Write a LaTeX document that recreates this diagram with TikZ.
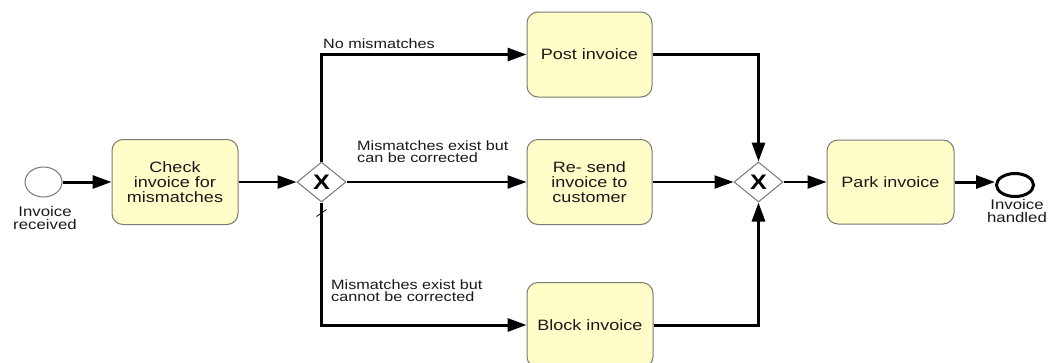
\documentclass[tikz,border=0pt]{standalone}
\usepackage{fontspec}
\setmainfont{Liberation Sans}[FakeStretch=1.2]
\usetikzlibrary{arrows.meta,shapes.geometric}
\definecolor{taskfill}{HTML}{FFFDC8}
\definecolor{taskline}{HTML}{7A7A72}
\definecolor{txt}{HTML}{1A1A1A}
\tikzset{
  task/.style={draw=taskline, line width=1bp, fill=taskfill, rounded corners=11bp,
    minimum width=126bp, minimum height=85bp, inner sep=0pt, align=center,
    text=txt, font=\fontsize{15bp}{15bp}\selectfont},
  gateway/.style={diamond, draw=taskline, line width=1bp, fill=white, inner sep=0pt,
    minimum width=49bp, minimum height=40bp, font=\fontsize{21bp}{21bp}\selectfont\bfseries},
  startev/.style={ellipse, draw=taskline, line width=1bp, fill=white, minimum width=37bp, minimum height=30bp, inner sep=0pt},
  endev/.style={ellipse, draw=black, line width=3bp, fill=white, minimum width=37bp, minimum height=23bp, inner sep=0pt},
  flow/.style={line width=3bp, -{Triangle[length=19bp,width=13bp]}},
  thinflow/.style={line width=2.2bp, -{Triangle[length=19bp,width=13bp]}},
  lbl/.style={text=txt, font=\fontsize{13.5bp}{11.5bp}\selectfont, align=left, inner sep=0pt},
  evlbl/.style={text=txt, font=\fontsize{14bp}{13bp}\selectfont, align=center, inner sep=0pt}
}
\begin{document}
\begin{tikzpicture}[x=1bp,y=-1bp]
\useasboundingbox (0,0) rectangle (1049,362);
\node[startev] (start) at (43.5,182) {};
\node[evlbl, anchor=north] (startlbl) at (45,206) {Invoice\\received};
\node[task] (check) at (175,182) {Check\\invoice for\\mismatches};
\node[gateway] (gw1) at (321.5,182) {X};
\node[task, minimum width=125bp] (post) at (589.5,54.5) {Post invoice};
\node[task, minimum width=125bp] (resend) at (589.5,182) {Re- send\\invoice to\\customer};
\node[task] (block) at (590,325) {Block invoice};
\node[gateway] (gw2) at (758.5,182) {X};
\node[task, minimum width=127bp, minimum height=84bp] (park) at (890.5,182) {Park invoice};
\node[endev] (end) at (1015,185) {};
\node[evlbl, anchor=north] (endlbl) at (1017,199) {Invoice\\handled};

\draw[flow] (start) -- (check);
\draw[thinflow] (check) -- (gw1);
\draw[flow] (gw1.north) |- (post.west);
\draw[thinflow] (gw1.east) -- (resend.west);
\draw[flow] (gw1.south) |- (block.west);
\draw[line width=0.8bp] ([shift={(-5,14)}]gw1.south) -- ([shift={(5,7)}]gw1.south);
\draw[flow] (post.east) -| (gw2.north);
\draw[thinflow] (resend.east) -- (gw2.west);
\draw[flow] (block.east) -| (gw2.south);
\draw[thinflow] (gw2.east) -- (park.west);
\draw[flow] (park.east) -- (park.east -| end.west);

\node[lbl, anchor=base west] (l1) at (323,48) {No mismatches};
\node[lbl, anchor=base west] (l2) at (357,162) {Mismatches exist but\\can be corrected};
\node[lbl, anchor=base west] (l3) at (331,301) {Mismatches exist but\\cannot be corrected};
\end{tikzpicture}
\end{document}
